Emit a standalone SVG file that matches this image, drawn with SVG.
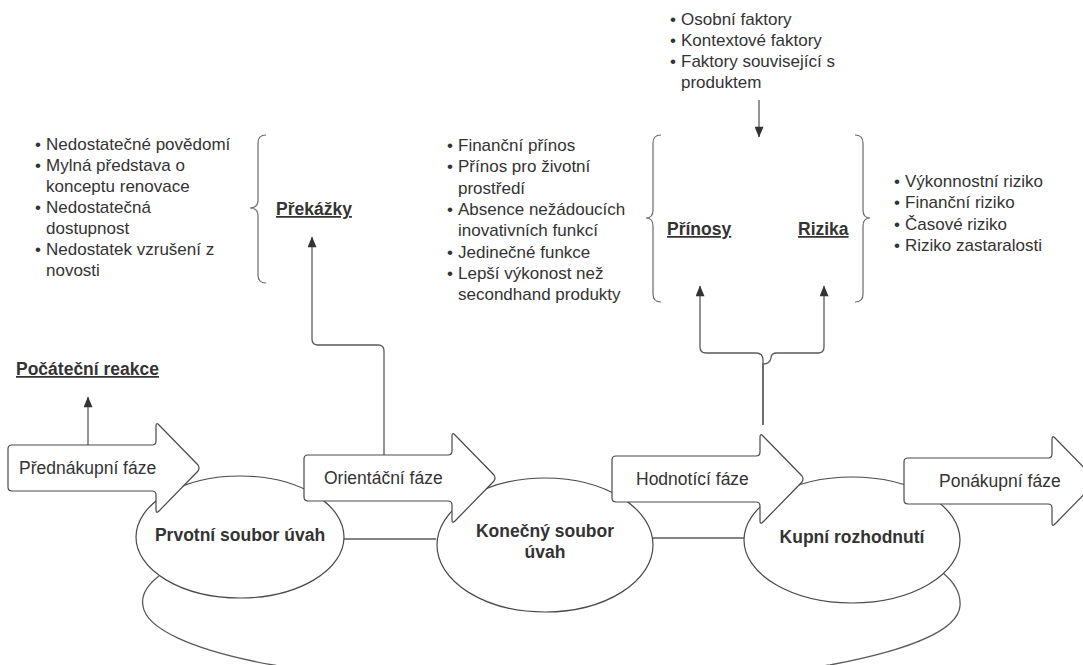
<svg xmlns="http://www.w3.org/2000/svg" xmlns:xlink="http://www.w3.org/1999/xlink" width="1083" height="665" viewBox="0 0 1083 665">
<style>
.t{font-family:"Liberation Sans",Arial,sans-serif;font-size:17px;fill:#333333}
.ph{font-family:"Liberation Sans",Arial,sans-serif;font-size:17.5px;fill:#333333}
.b{font-family:"Liberation Sans",Arial,sans-serif;font-size:17.5px;font-weight:bold;fill:#333333}
.u{text-decoration:underline}
.shape{fill:#ffffff;stroke:#4a4a4a;stroke-width:1.2}
.ln{fill:none;stroke:#5a5a5a;stroke-width:1.3}
.ar{fill:none;stroke:#5a5a5a;stroke-width:1.3;marker-end:url(#ah)}
.br{fill:none;stroke:#6a6a6a;stroke-width:1.2}
</style>
<defs>
<marker id="ah" viewBox="0 0 12 10" refX="11.5" refY="5" markerWidth="12" markerHeight="9" markerUnits="userSpaceOnUse" orient="auto">
<path d="M0,0 L12,5 L0,10 Z" fill="#333333"/>
</marker>
<path id="phase" d="M4,-23 L144,-23 Q148,-23 148,-27 L148,-42 Q148,-46 151,-43 L190,-3 Q192,0 190,3 L151,43 Q148,46 148,42 L148,27 Q148,23 144,23 L4,23 Q0,23 0,19 L0,-19 Q0,-23 4,-23 Z"/>
</defs>

<g id="connectors">
<line class="ln" x1="344" y1="539" x2="436" y2="539"/>
<line class="ln" x1="652" y1="538" x2="744" y2="538"/>
<path class="ln" d="M159,576 C146,586 141,596 143,606 C146,628 190,650 273,665 C320,673 400,680 545,680 C690,680 770,673 830,665 C910,650 958,630 960,606 C961,594 955,583 943,573"/>
<path class="ar" d="M88,445 L88,397"/>
<path class="ar" d="M384,455 L384,351 Q384,345 378,345 L318,345 Q312,345 312,339 L312,237"/>
<path class="ar" d="M759,100 L759,137"/>
<path class="ar" d="M763,425 L763,360 Q763,353 756,353 L706,353 Q700,353 700,347 L700,286"/>
<path class="ar" d="M763,425 L763,364 Q770,364 771,358 Q771,353 777,353 L818,353 Q824,353 824,347 L824,286"/>
</g>

<g id="prvotni">
<ellipse class="shape" cx="240" cy="537" rx="104" ry="61"/>
<text class="b" x="240" y="541" text-anchor="middle">Prvotní soubor úvah</text>
</g>
<g id="konecny">
<ellipse class="shape" cx="545" cy="545" rx="108" ry="67"/>
<text class="b" x="545" y="537" text-anchor="middle">Konečný soubor</text>
<text class="b" x="545" y="558" text-anchor="middle">úvah</text>
</g>
<g id="kupni">
<ellipse class="shape" cx="852" cy="540" rx="108" ry="63"/>
<text class="b" x="852" y="543" text-anchor="middle">Kupní rozhodnutí</text>
</g>

<g id="prednakupni">
<use xlink:href="#phase" class="shape" x="8" y="468"/>
<text class="ph" x="19" y="474">Přednákupní fáze</text>
</g>
<g id="orientacni">
<use xlink:href="#phase" class="shape" x="304" y="478"/>
<text class="ph" x="324" y="484">Orientáční fáze</text>
</g>
<g id="hodnotici">
<use xlink:href="#phase" class="shape" x="612" y="479"/>
<text class="ph" x="636" y="485">Hodnotící fáze</text>
</g>
<g id="ponakupni">
<use xlink:href="#phase" class="shape" x="904" y="481"/>
<text class="ph" x="939" y="487">Ponákupní fáze</text>
</g>

<g id="pocatecni-reakce">
<text class="b u" x="16" y="375">Počáteční reakce</text>
</g>

<g id="prekazky">
<path class="br" d="M266,135 Q258,135 258,143 L258,200 Q258,208 250,208 Q258,208 258,216 L258,275 Q258,283 266,283"/>
<text class="b u" x="276" y="215">Překážky</text>
<text class="t" x="35" y="150">•</text><text class="t" x="46" y="150">Nedostatečné povědomí</text>
<text class="t" x="35" y="171">•</text><text class="t" x="46" y="171">Mylná představa o</text>
<text class="t" x="46" y="192">konceptu renovace</text>
<text class="t" x="35" y="213">•</text><text class="t" x="46" y="213">Nedostatečná</text>
<text class="t" x="46" y="234">dostupnost</text>
<text class="t" x="35" y="255">•</text><text class="t" x="46" y="255">Nedostatek vzrušení z</text>
<text class="t" x="46" y="276">novosti</text>
</g>

<g id="faktory">
<text class="t" x="670" y="25">•</text><text class="t" x="681" y="25">Osobní faktory</text>
<text class="t" x="670" y="46">•</text><text class="t" x="681" y="46">Kontextové faktory</text>
<text class="t" x="670" y="67">•</text><text class="t" x="681" y="67">Faktory související s</text>
<text class="t" x="681" y="88">produktem</text>
</g>

<g id="prinosy">
<path class="br" d="M661,135 Q653,135 653,143 L653,210 Q653,218 646,218 Q653,218 653,226 L653,294 Q653,302 661,302"/>
<text class="b u" x="667" y="235">Přínosy</text>
<text class="t" x="447" y="151">•</text><text class="t" x="458" y="151">Finanční přínos</text>
<text class="t" x="447" y="172">•</text><text class="t" x="458" y="172">Přínos pro životní</text>
<text class="t" x="458" y="194">prostředí</text>
<text class="t" x="447" y="215">•</text><text class="t" x="458" y="215">Absence nežádoucích</text>
<text class="t" x="458" y="236">inovativních funkcí</text>
<text class="t" x="447" y="258">•</text><text class="t" x="458" y="258">Jedinečné funkce</text>
<text class="t" x="447" y="279">•</text><text class="t" x="458" y="279">Lepší výkonost než</text>
<text class="t" x="458" y="300">secondhand produkty</text>
</g>

<g id="rizika">
<path class="br" d="M855,135 Q863,135 863,143 L863,210 Q863,218 870,218 Q863,218 863,226 L863,294 Q863,302 855,302"/>
<text class="b u" x="798" y="235">Rizika</text>
<text class="t" x="894" y="187">•</text><text class="t" x="905" y="187">Výkonnostní riziko</text>
<text class="t" x="894" y="208">•</text><text class="t" x="905" y="208">Finanční riziko</text>
<text class="t" x="894" y="230">•</text><text class="t" x="905" y="230">Časové riziko</text>
<text class="t" x="894" y="251">•</text><text class="t" x="905" y="251">Riziko zastaralosti</text>
</g>
</svg>
